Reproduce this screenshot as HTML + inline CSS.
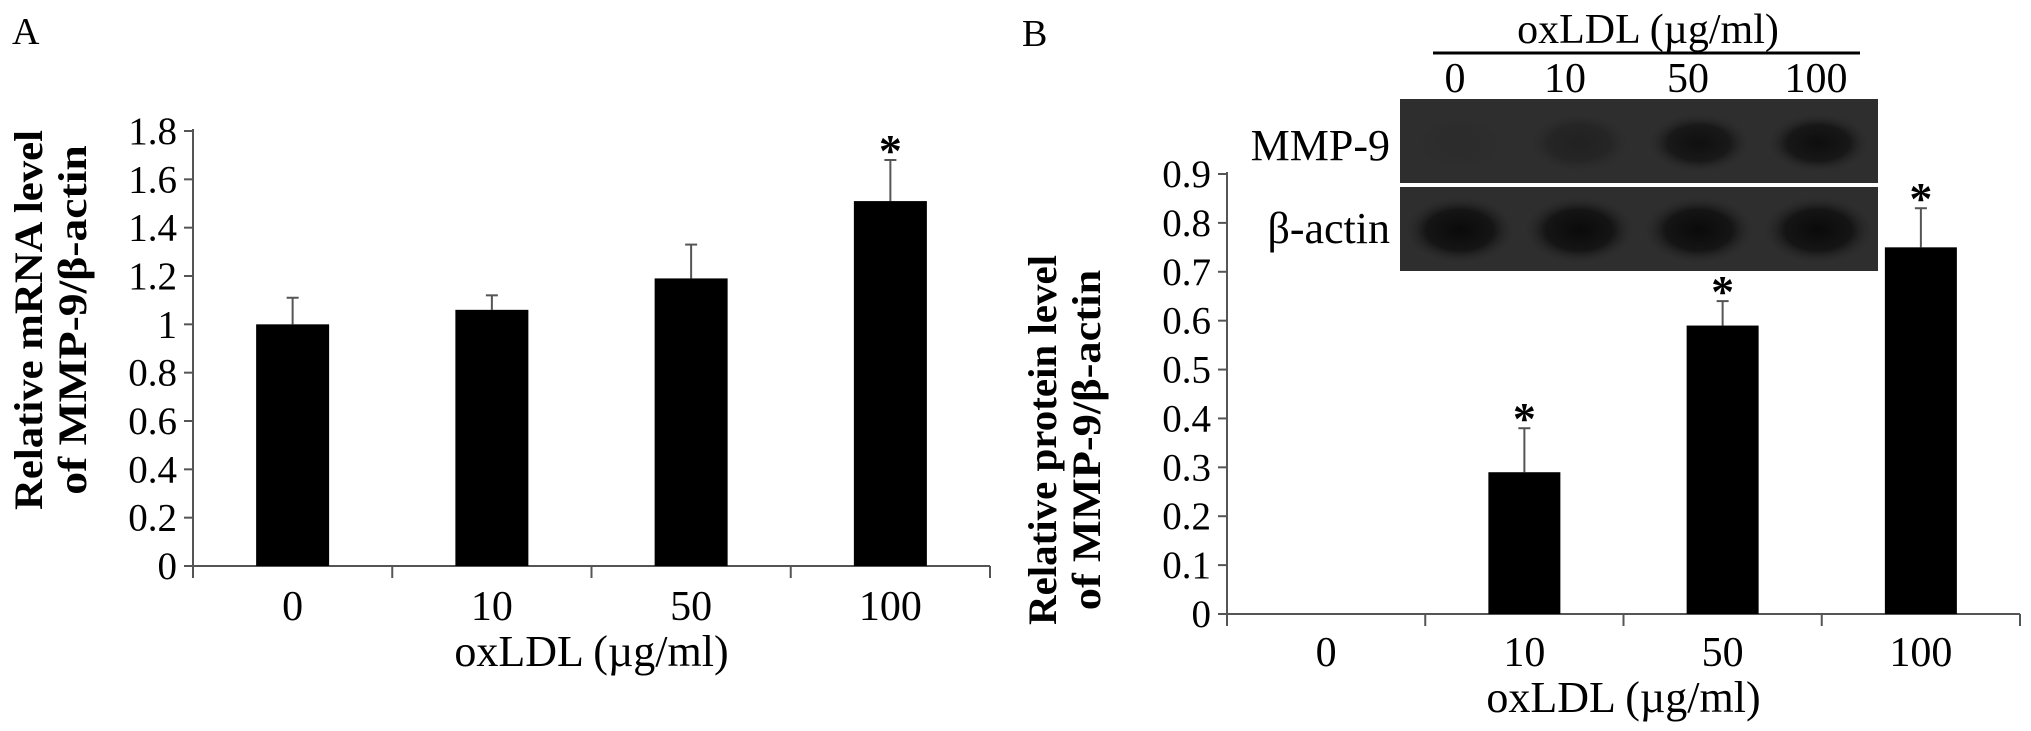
<!DOCTYPE html>
<html><head><meta charset="utf-8"><style>
html,body{margin:0;padding:0;background:#fff;}
svg{display:block;font-family:"Liberation Serif",serif;}
</style></head><body>
<svg id="fig" width="2031" height="731" viewBox="0 0 2031 731" xmlns="http://www.w3.org/2000/svg">
<defs>
<radialGradient id="band" cx="50%" cy="50%" r="50%"><stop offset="0" stop-color="#0a0a0a"/><stop offset="0.6" stop-color="#151515"/><stop offset="1" stop-color="#2c2c2c" stop-opacity="0"/></radialGradient>
</defs>
<text x="12" y="44" font-size="38">A</text>
<text x="1022" y="46" font-size="38">B</text>
<g id="chartA"></g>
<g id="chartB"></g>
<g id="blot"></g>
</svg>
<script>
const catsA = ["0","10","50","100"];
const valsA = [1.0, 1.06, 1.19, 1.51];
const errsA = [1.11, 1.12, 1.33, 1.68];
const sigA = [false,false,false,true];
const ticksA = ["0","0.2","0.4","0.6","0.8","1","1.2","1.4","1.6","1.8"];
const tickValsA = [0,0.2,0.4,0.6,0.8,1.0,1.2,1.4,1.6,1.8];

const catsB = ["0","10","50","100"];
const valsB = [0, 0.29, 0.59, 0.75];
const errsB = [0, 0.38, 0.64, 0.83];
const sigB = [false,true,true,true];
const ticksB = ["0","0.1","0.2","0.3","0.4","0.5","0.6","0.7","0.8","0.9"];
const tickValsB = [0,0.1,0.2,0.3,0.4,0.5,0.6,0.7,0.8,0.9];

const NS="http://www.w3.org/2000/svg";
function mk(parent,tag,attrs,text){const e=document.createElementNS(NS,tag);for(const k in attrs)e.setAttribute(k,attrs[k]);if(text!==undefined)e.textContent=text;parent.appendChild(e);return e;}

function drawChart(g,cfg){
  const {x0,x1,y0,yTop,vmax,cats,vals,errs,sig,ticks,tickVals,barW,title1,title2,titleX1,titleX2,titleCY,titleLen,labY,xTitleY}=cfg;
  const yS=v=>y0-(v/vmax)*(y0-yTop);
  const gw=(x1-x0)/cats.length;
  const xC=i=>x0+gw*(i+0.5);
  const ax=mk(g,"line",{x1:x0,y1:yTop-2,x2:x0,y2:y0,stroke:"#555","stroke-width":2});
  
  
  const bx=mk(g,"line",{x1:x0,y1:y0,x2:x1,y2:y0,stroke:"#555","stroke-width":2});
  
  
  tickVals.forEach((v,i)=>{
    const t=mk(g,"line",{x1:x0-9,y1:yS(v),x2:x0,y2:yS(v),stroke:"#555","stroke-width":2});
    
    
    const l=mk(g,"text",{x:x0-16,y:yS(v)+13,"font-size":39,"text-anchor":"end"},ticks[i]);
    
    
  });
  for(let i=0;i<=cats.length;i++){
    const t=mk(g,"line",{x1:x0+gw*i,y1:y0,x2:x0+gw*i,y2:y0+12,stroke:"#555","stroke-width":2});
    
    
  }
  cats.forEach((c,i)=>{
    const cx=xC(i);
    if(vals[i]>0){
      const e=mk(g,"line",{x1:cx,y1:yS(errs[i]),x2:cx,y2:yS(vals[i]),stroke:"#555","stroke-width":2});
      
      
      const cap=mk(g,"line",{x1:cx-6,y1:yS(errs[i]),x2:cx+6,y2:yS(errs[i]),stroke:"#555","stroke-width":2});
      
      
      const b=mk(g,"rect",{x:cx-barW/2,y:yS(vals[i]),width:barW,height:y0-yS(vals[i]),fill:"#000"});
      
      
    }
    if(sig[i]){
      const s=mk(g,"text",{x:cx,y:yS(errs[i])+6,"font-size":46,"font-weight":"bold","text-anchor":"middle"},"*");
      
      
    }
    const l=mk(g,"text",{x:cx,y:labY,"font-size":42,"text-anchor":"middle"},c);
    
    
  });
  const xt=mk(g,"text",{x:(x0+x1)/2,y:xTitleY,"font-size":44,"text-anchor":"middle"},"oxLDL (\u00b5g/ml)");
  
  
  const t1=mk(g,"text",{x:titleX1,y:titleCY,"font-size":40,"font-weight":"bold","text-anchor":"middle",textLength:titleLen,lengthAdjust:"spacingAndGlyphs",transform:`rotate(-90 ${titleX1} ${titleCY})`},title1);
  
  
  const t2=mk(g,"text",{x:titleX2,y:titleCY,"font-size":40,"font-weight":"bold","text-anchor":"middle",textLength:titleLen*0.92,lengthAdjust:"spacingAndGlyphs",transform:`rotate(-90 ${titleX2} ${titleCY})`},title2);
  
  
}

drawChart(document.getElementById("chartA"),{x0:193,x1:990,y0:566,yTop:131,vmax:1.8,cats:catsA,vals:valsA,errs:errsA,sig:sigA,ticks:ticksA,tickVals:tickValsA,barW:73,
  title1:"Relative mRNA level",title2:"of MMP-9/\u03b2-actin",titleX1:42,titleX2:86,titleCY:320,titleLen:380,labY:620,xTitleY:666});
drawChart(document.getElementById("chartB"),{x0:1227,x1:2020,y0:614,yTop:174,vmax:0.9,cats:catsB,vals:valsB,errs:errsB,sig:sigB,ticks:ticksB,tickVals:tickValsB,barW:72,
  title1:"Relative protein level",title2:"of MMP-9/\u03b2-actin",titleX1:1056,titleX2:1100,titleCY:440,titleLen:370,labY:666,xTitleY:712});

// western blot
const blot=document.getElementById("blot");
const lanes=["0","10","50","100"];
const mmp=[0.05,0.35,0.85,0.9];
const act=[1,1,1,1];
const bx0=1400,bx1=1878;
const h1=mk(blot,"text",{x:1648,y:43,"font-size":42,"text-anchor":"middle"},"oxLDL (\u00b5g/ml)");


mk(blot,"line",{x1:1433,y1:53,x2:1860,y2:53,stroke:"#000","stroke-width":3});
const laneX=[1455,1565,1688,1816];
lanes.forEach((l,i)=>{
  const t=mk(blot,"text",{x:laneX[i],y:92,"font-size":42,"text-anchor":"middle"},l);
  
  
});
const r1=mk(blot,"rect",{x:bx0,y:99,width:bx1-bx0,height:84,fill:"#2e2e2e"});


const r2=mk(blot,"rect",{x:bx0,y:187,width:bx1-bx0,height:84,fill:"#2e2e2e"});


const lw=(bx1-bx0)/4;
lanes.forEach((l,i)=>{
  const cx=bx0+lw*(i+0.5);
  const e1=mk(blot,"ellipse",{cx:cx,cy:143,rx:52,ry:30,fill:"url(#band)",opacity:mmp[i]});
  
  
  const e2=mk(blot,"ellipse",{cx:cx,cy:230,rx:56,ry:34,fill:"url(#band)",opacity:act[i]});
  
  
});
const m=mk(blot,"text",{x:1390,y:160,"font-size":44,"text-anchor":"end"},"MMP-9");


const a=mk(blot,"text",{x:1390,y:243,"font-size":44,"text-anchor":"end"},"\u03b2-actin");


</script>
</body></html>
